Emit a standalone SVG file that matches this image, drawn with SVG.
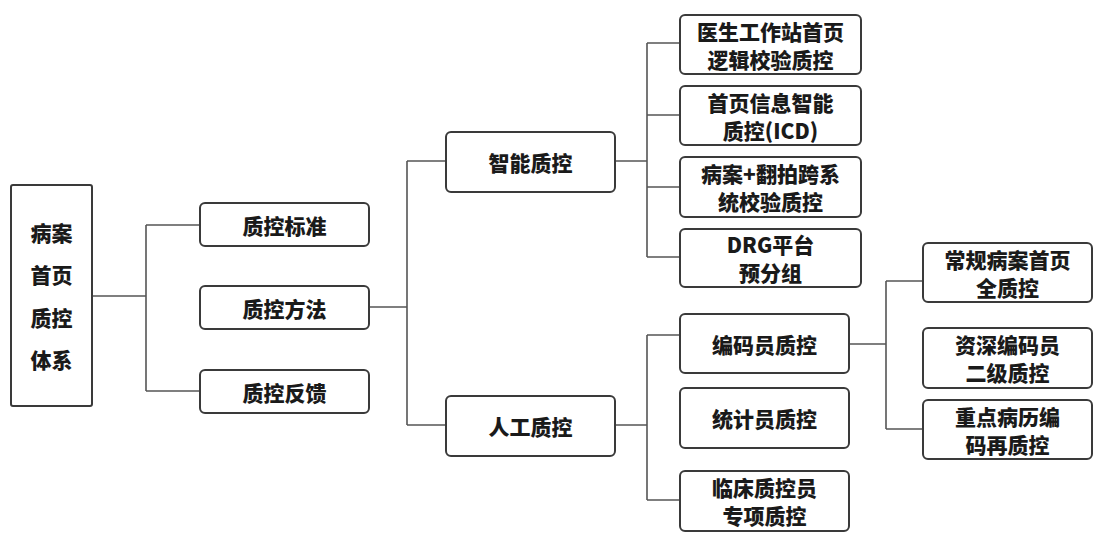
<svg xmlns="http://www.w3.org/2000/svg" width="1098" height="537" viewBox="0 0 1098 537">
<style>
.box{fill:#fff;stroke:#3a3a3a;stroke-width:2}
.t{font-family:"Noto Sans CJK SC","Noto Sans",sans-serif;font-weight:900;font-size:21px;fill:#1a1a1a;text-anchor:middle;dominant-baseline:central}
.c{fill:none;stroke:#555;stroke-width:1.6}
</style>
<rect width="1098" height="537" fill="#fff"/>
<g id="connectors">
<path class="c" d="M92 296H146M146 225V391M146 225H200M146 391H200"/>
<path class="c" d="M369 307H407M407 161V425M407 161H446M407 425H446"/>
<path class="c" d="M615 161H647M647 43V257M647 43H680M647 115H680M647 187H680M647 257H680"/>
<path class="c" d="M615 425H647M647 335V500M647 335H680M647 500H680"/>
<path class="c" d="M849 344H886M886 281V429M886 281H923M886 429H923"/>
</g>
<g id="root"><rect class="box" x="11" y="185" width="81" height="221" rx="2"/>
<text class="t" x="51.5" y="232">病案</text><text class="t" x="51.5" y="274">首页</text><text class="t" x="51.5" y="317">质控</text><text class="t" x="51.5" y="359">体系</text></g>
<g id="n-standard"><rect class="box" x="200" y="203" width="169" height="43" rx="5"/><text class="t" x="284.5" y="224.5">质控标准</text></g>
<g id="n-method"><rect class="box" x="200" y="286" width="169" height="43" rx="5"/><text class="t" x="284.5" y="307.5">质控方法</text></g>
<g id="n-feedback"><rect class="box" x="200" y="370" width="169" height="43" rx="5"/><text class="t" x="284.5" y="391.5">质控反馈</text></g>
<g id="n-smart"><rect class="box" x="446" y="132" width="169" height="60" rx="5"/><text class="t" x="530.5" y="162">智能质控</text></g>
<g id="n-manual"><rect class="box" x="446" y="396" width="169" height="60" rx="5"/><text class="t" x="530.5" y="426">人工质控</text></g>
<g id="n-s1"><rect class="box" x="680" y="15" width="181" height="59" rx="5"/><text class="t" x="770.5" y="30.5">医生工作站首页</text><text class="t" x="770.5" y="58.5">逻辑校验质控</text></g>
<g id="n-s2"><rect class="box" x="680" y="86" width="181" height="59" rx="5"/><text class="t" x="770.5" y="101.5">首页信息智能</text><text class="t" x="770.5" y="129.5">质控(ICD)</text></g>
<g id="n-s3"><rect class="box" x="680" y="157" width="181" height="60" rx="5"/><text class="t" x="770.5" y="173">病案+翻拍跨系</text><text class="t" x="770.5" y="201">统校验质控</text></g>
<g id="n-s4"><rect class="box" x="680" y="229" width="181" height="58" rx="5"/><text class="t" x="770.5" y="244">DRG平台</text><text class="t" x="770.5" y="272">预分组</text></g>
<g id="n-m1"><rect class="box" x="680" y="314" width="169" height="59" rx="5"/><text class="t" x="764.5" y="343.5">编码员质控</text></g>
<g id="n-m2"><rect class="box" x="680" y="388" width="169" height="60" rx="5"/><text class="t" x="764.5" y="418">统计员质控</text></g>
<g id="n-m3"><rect class="box" x="680" y="471" width="169" height="60" rx="5"/><text class="t" x="764.5" y="487">临床质控员</text><text class="t" x="764.5" y="515">专项质控</text></g>
<g id="n-c1"><rect class="box" x="923" y="243" width="169" height="59" rx="5"/><text class="t" x="1007.5" y="258.5">常规病案首页</text><text class="t" x="1007.5" y="286.5">全质控</text></g>
<g id="n-c2"><rect class="box" x="923" y="328" width="169" height="60" rx="5"/><text class="t" x="1007.5" y="344">资深编码员</text><text class="t" x="1007.5" y="372">二级质控</text></g>
<g id="n-c3"><rect class="box" x="923" y="400" width="169" height="59" rx="5"/><text class="t" x="1007.5" y="415.5">重点病历编</text><text class="t" x="1007.5" y="443.5">码再质控</text></g>
</svg>
